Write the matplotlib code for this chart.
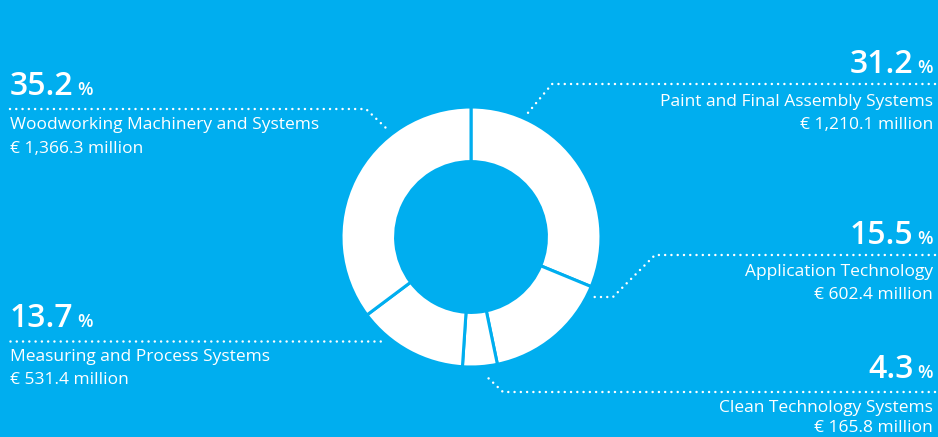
import matplotlib
matplotlib.use("Agg")
import matplotlib.pyplot as plt
from matplotlib.transforms import offset_copy

# Segment data (clockwise from 12 o'clock)
segments = ["Paint and Final Assembly Systems", "Application Technology",
            "Clean Technology Systems", "Measuring and Process Systems",
            "Woodworking Machinery and Systems"]
shares = [31.2, 15.5, 4.3, 13.7, 35.2]
sales = ["€ 1,210.1 million", "€ 602.4 million", "€ 165.8 million",
         "€ 531.4 million", "€ 1,366.3 million"]

BG = "#00AEEF"
W, H = 938, 437
plt.rcParams['font.family'] = ['Open Sans', 'DejaVu Sans']

fig = plt.figure(figsize=(W / 100, H / 100), dpi=100, facecolor=BG)

# overlay axes in pixel coordinates (y down)
ov = fig.add_axes([0, 0, 1, 1])
ov.set_xlim(0, W)
ov.set_ylim(H, 0)
ov.axis("off")

# donut
cx, cy, r = 471, 237, 130
pie_ax = fig.add_axes([(cx - r) / W, (H - cy - r) / H, 2 * r / W, 2 * r / H])
pie_ax.pie(shares, startangle=90, counterclock=False, radius=1,
           colors=["white"] * len(shares),
           wedgeprops=dict(width=0.42, edgecolor=BG, linewidth=2.2))
pie_ax.set_xlim(-1, 1)
pie_ax.set_ylim(-1, 1)
pie_ax.axis("off")

# label layout: (side, x, number baseline y, leader points, name y, value y)
layout = {
    "Paint and Final Assembly Systems": ("right", 933, 73,
        [(935, 84), (552, 84), (527, 114)], 102, 125),
    "Application Technology": ("right", 933, 244,
        [(935, 255), (655, 255), (613, 297), (589, 297)], 272, 295),
    "Clean Technology Systems": ("right", 933, 378,
        [(935, 392), (503, 392), (485, 375)], 408, 428),
    "Measuring and Process Systems": ("left", 10, 327,
        [(10, 341), (381, 341)], 357, 380),
    "Woodworking Machinery and Systems": ("left", 10, 95,
        [(10, 109), (366, 109), (387, 129)], 125, 149),
}

dot = dict(color="white", linewidth=1.8, linestyle=(0, (0.01, 2.5)),
           dash_capstyle="round")
txt = dict(color="white", fontsize=12.5)
num_kw = dict(color="white", fontsize=23, fontweight="semibold")
pct_kw = dict(color="white", fontsize=13, fontweight="semibold")

fig.canvas.draw()
renderer = fig.canvas.get_renderer()

for name, share, value in zip(segments, shares, sales):
    side, x, base, pts, ny, vy = layout[name]
    xs, ys = zip(*pts)
    ov.plot(xs, ys, **dot)
    ov.text(x, ny, name, ha=side, va="center", **txt)
    ov.text(x, vy, value, ha=side, va="center", **txt)
    if side == "right":
        pct = ov.text(x, base, "%", ha="right", va="baseline", **pct_kw)
        pb = pct.get_window_extent(renderer)
        tr = offset_copy(ov.transData, fig=fig, x=-(pb.width + 4), y=0, units="dots")
        ov.text(x, base, f"{share:.1f}", ha="right", va="baseline",
                transform=tr, **num_kw)
    else:
        num = ov.text(x, base, f"{share:.1f}", ha="left", va="baseline", **num_kw)
        bb = num.get_window_extent(renderer)
        tr = offset_copy(ov.transData, fig=fig, x=bb.width + 4, y=0, units="dots")
        ov.text(x, base, "%", ha="left", va="baseline", transform=tr, **pct_kw)

fig.savefig("out.png", dpi=100, facecolor=BG)
